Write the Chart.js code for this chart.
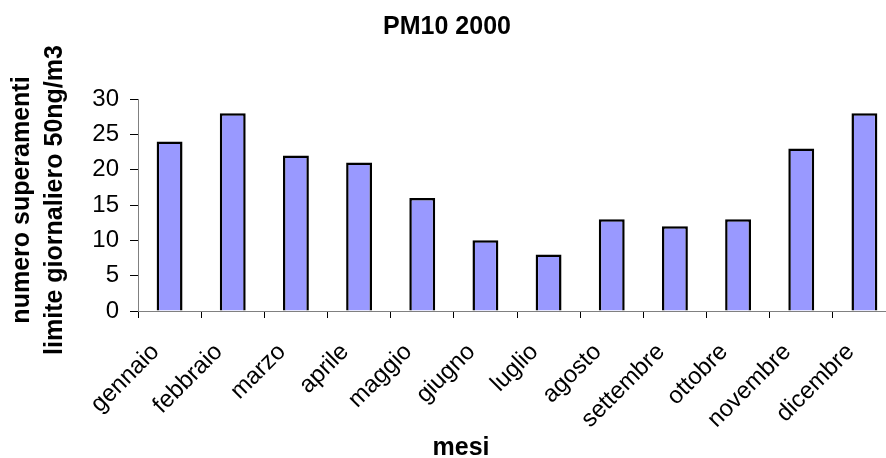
<!DOCTYPE html>
<html>
<head>
<meta charset="utf-8">
<script src="https://cdn.jsdelivr.net/npm/chart.js@4"></script>
<style>
  html, body { margin: 0; padding: 0; background: #fff; overflow: hidden; width: 886px; height: 458px; }
  canvas { display: block; }
</style>
</head>
<body>
<canvas id="c" width="920" height="458"></canvas>
<script>
const categories = ['gennaio','febbraio','marzo','aprile','maggio','giugno','luglio','agosto','settembre','ottobre','novembre','dicembre'];
const values = [24, 28, 22, 21, 16, 10, 8, 13, 12, 13, 23, 28];
const yTicks = [0, 5, 10, 15, 20, 25, 30];
const chartTitle = 'PM10 2000';
const xTitle = 'mesi';
const yTitleLines = ['numero superamenti', 'limite giornaliero 50ng/m3'];

const FONT = '"Liberation Sans", Arial, sans-serif';

const textPlugin = {
  id: 'texts',
  afterDraw(chart) {
    const ctx = chart.ctx;
    ctx.save();
    ctx.fillStyle = '#000';
    ctx.font = 'bold 25px ' + FONT;
    ctx.textAlign = 'center';
    ctx.textBaseline = 'alphabetic';
    ctx.fillText(chartTitle, 447, 34);
    ctx.fillText(xTitle, 461, 455);
    const baselines = [29, 62];
    yTitleLines.forEach((t, i) => {
      ctx.save();
      ctx.translate(baselines[i], 200);
      ctx.rotate(-Math.PI / 2);
      ctx.fillText(t, 0, 0);
      ctx.restore();
    });
    ctx.restore();
  }
};

new Chart(document.getElementById('c'), {
  type: 'bar',
  data: {
    labels: categories,
    datasets: [{
      data: values,
      backgroundColor: '#9999FF',
      borderColor: '#000000',
      borderWidth: 2.5,
      categoryPercentage: 1,
      barPercentage: 0.41
    }]
  },
  options: {
    responsive: false,
    animation: false,
    devicePixelRatio: 1,
    layout: { padding: { left: 0, right: 24, top: 99, bottom: 0 } },
    plugins: { legend: { display: false }, title: { display: false }, tooltip: { enabled: false } },
    scales: {
      x: {
        grid: { display: true, drawOnChartArea: false, drawTicks: true, tickLength: 7, color: '#000', offset: true },
        border: { display: true, color: '#808080', width: 1 },
        ticks: {
          color: '#000', font: { family: FONT, size: 24 },
          minRotation: 45, maxRotation: 45, autoSkip: false, padding: 20, labelOffset: -14
        },
        afterFit(scale) { scale.height = 147; }
      },
      y: {
        min: 0, max: 30,
        afterBuildTicks(scale) { scale.ticks = yTicks.map(v => ({ value: v })); },
        grid: { display: true, drawOnChartArea: false, drawTicks: true, tickLength: 8, color: '#000' },
        border: { display: true, color: '#808080', width: 1 },
        ticks: { color: '#000', font: { family: FONT, size: 24 }, padding: 11 },
        afterFit(scale) { scale.width = 138; }
      }
    }
  },
  plugins: [textPlugin]
});
</script>
</body>
</html>
